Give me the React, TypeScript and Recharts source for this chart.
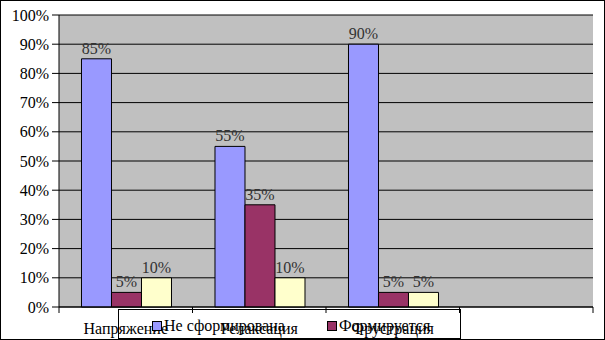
import React from "react";
import { BarChart, Bar, XAxis, YAxis, CartesianGrid, LabelList } from "recharts";

const categories = ["Напряжение", "Релаксация", "Фрустрация", ""];
const notFormed = [85, 55, 90, null];
const forming = [5, 35, 5, null];
const formed = [10, 10, 5, null];
const yTicks = [0, 10, 20, 30, 40, 50, 60, 70, 80, 90, 100];

const seriesNames = ["Не сформирована", "Формируется", "Сформирована"];
const seriesColors = ["#9999FF", "#993366", "#FFFFCC"];

const W = 605;
const H = 340;
const margin = { top: 14, right: 11, left: 0, bottom: 2 };
const yAxisWidth = 58;
const font = "'Times New Roman', 'Liberation Serif', 'DejaVu Serif', serif";

const chartData = categories.map((name, i) => ({
  name,
  notFormed: notFormed[i],
  forming: forming[i],
  formed: formed[i],
}));

const plotWidth = W - 2 - margin.left - margin.right - yAxisWidth;
const band = plotWidth / categories.length;

function CategoryTick(props: any) {
  const { x, y, payload, index } = props;
  return (
    <g>
      <line x1={x - band / 2} x2={x - band / 2} y1={y - 8} y2={y - 2} stroke="#000" />
      {index === categories.length - 1 && (
        <line x1={x + band / 2} x2={x + band / 2} y1={y - 8} y2={y - 2} stroke="#000" />
      )}
      <text x={x} y={y + 19} textAnchor="middle" fontSize={16} style={{ fontFamily: font }} fill="#000">
        {payload.value}
      </text>
    </g>
  );
}

// only the first two entries fit in the original legend box
function LegendBox() {
  return (
    <div
      style={{
        position: "absolute",
        left: 117,
        top: 308,
        width: 343,
        height: 30,
        border: "1px solid #000",
        boxSizing: "border-box",
        fontFamily: font,
        fontSize: 16,
        display: "flex",
        alignItems: "center",
        paddingTop: 4,
      }}
    >
      {seriesNames.slice(0, 2).map((n, i) => (
        <span key={n} style={{ display: "flex", alignItems: "center", marginLeft: i === 0 ? 33 : 42 }}>
          <span
            style={{
              width: 8,
              height: 8,
              background: seriesColors[i],
              border: "1px solid #000",
              marginRight: 2,
            }}
          />
          {n}
        </span>
      ))}
    </div>
  );
}

const labelStyle = { fontSize: 16, fontFamily: font, fill: "#333" };
const pct = (v: any) => (v == null ? "" : `${v}%`);

export default function App() {
  return (
    <div
      style={{
        position: "absolute",
        left: 0,
        top: 0,
        width: W,
        height: H,
        boxSizing: "border-box",
        border: "1px solid #000",
        background: "#fff",
      }}
    >
      <BarChart
        width={W - 2}
        height={H - 2}
        data={chartData}
        margin={margin}
        barCategoryGap="16.85%"
        barGap={0}
      >
        <CartesianGrid vertical={false} stroke="#000" fill="#C0C0C0" fillOpacity={1} yAxisId="left" />
        <XAxis
          dataKey="name"
          height={30}
          axisLine={{ stroke: "#000" }}
          tickLine={false}
          tick={<CategoryTick />}
          interval={0}
        />
        <YAxis
          yAxisId="left"
          domain={[0, 100]}
          ticks={yTicks}
          width={yAxisWidth}
          tickFormatter={(v) => `${v}%`}
          axisLine={{ stroke: "#000" }}
          tickLine={{ stroke: "#000" }}
          tickSize={7}
          tickMargin={3}
          tick={{ fontSize: 16, style: { fontFamily: font }, fill: "#000" }}
        />
        <YAxis
          yAxisId="right"
          orientation="right"
          domain={[0, 100]}
          width={0}
          tick={false}
          tickLine={false}
          axisLine={{ stroke: "#808080" }}
        />
        <Bar yAxisId="left" dataKey="notFormed" name={seriesNames[0]} fill={seriesColors[0]} stroke="#000" isAnimationActive={false}>
          <LabelList dataKey="notFormed" position="top" offset={5} formatter={pct} style={labelStyle} />
        </Bar>
        <Bar yAxisId="left" dataKey="forming" name={seriesNames[1]} fill={seriesColors[1]} stroke="#000" isAnimationActive={false}>
          <LabelList dataKey="forming" position="top" offset={5} formatter={pct} style={labelStyle} />
        </Bar>
        <Bar yAxisId="left" dataKey="formed" name={seriesNames[2]} fill={seriesColors[2]} stroke="#000" isAnimationActive={false}>
          <LabelList dataKey="formed" position="top" offset={5} formatter={pct} style={labelStyle} />
        </Bar>
      </BarChart>
      <LegendBox />
    </div>
  );
}
